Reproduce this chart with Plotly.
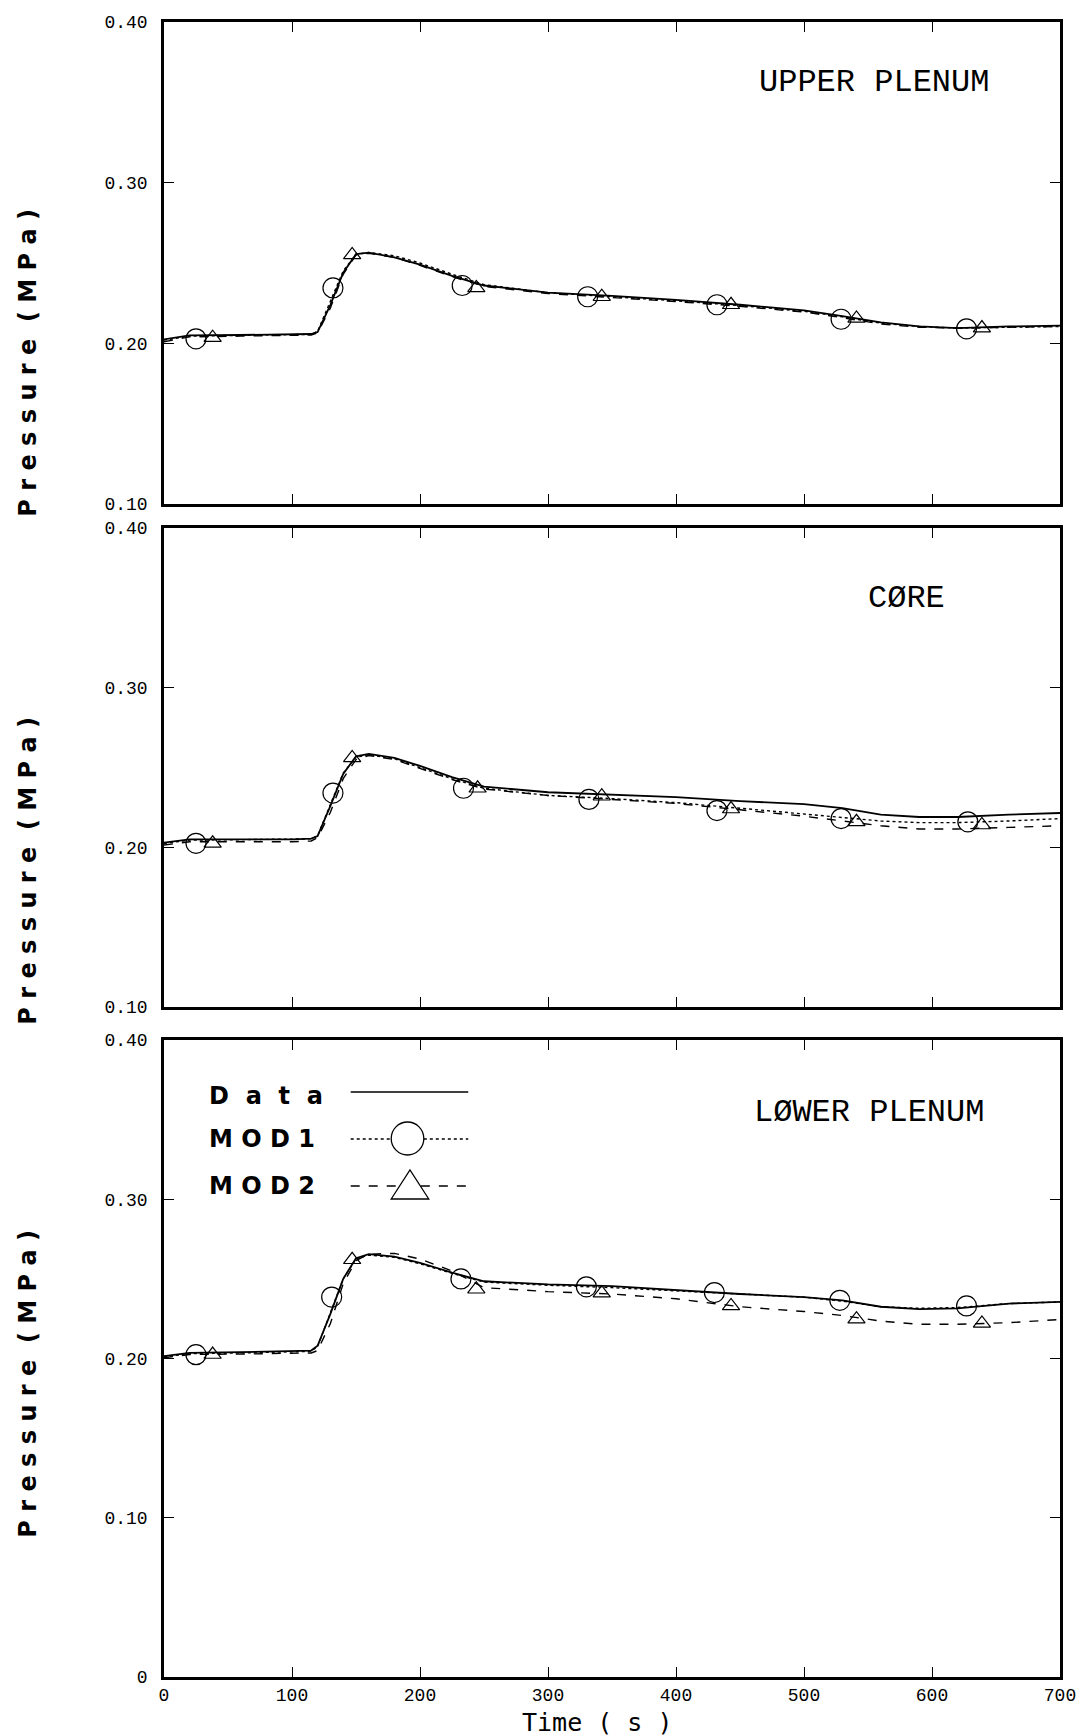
import plotly.graph_objects as go

# ---------------- data ----------------
time = [0, 20, 60, 100, 115, 120, 130, 140, 150, 160, 180, 200, 225, 250,
        300, 350, 400, 450, 500, 530, 560, 590, 620, 660, 700]

# Upper plenum
up_data = [0.2025, 0.2050, 0.2052, 0.2055, 0.2058, 0.2070, 0.2240, 0.2440, 0.2555, 0.2565,
           0.2535, 0.2490, 0.2420, 0.2360, 0.2315, 0.2295, 0.2270, 0.2240, 0.2205, 0.2170,
           0.2130, 0.2105, 0.2095, 0.2105, 0.2110]
up_mod1 = [0.2020, 0.2045, 0.2050, 0.2053, 0.2056, 0.2075, 0.2260, 0.2450, 0.2555, 0.2565,
           0.2545, 0.2500, 0.2430, 0.2365, 0.2315, 0.2290, 0.2265, 0.2235, 0.2200, 0.2165,
           0.2125, 0.2105, 0.2095, 0.2100, 0.2105]
up_mod2 = [0.2010, 0.2040, 0.2045, 0.2050, 0.2052, 0.2065, 0.2220, 0.2430, 0.2550, 0.2560,
           0.2535, 0.2485, 0.2415, 0.2355, 0.2310, 0.2285, 0.2260, 0.2230, 0.2195, 0.2160,
           0.2120, 0.2100, 0.2095, 0.2100, 0.2105]
up_mod1_mk_t = [25, 132, 233, 331, 432, 529, 627]
up_mod1_mk_v = [0.2028, 0.2345, 0.2360, 0.2290, 0.2240, 0.2150, 0.2090]
up_mod2_mk_t = [38, 147, 244, 342, 443, 541, 639]
up_mod2_mk_v = [0.2035, 0.2550, 0.2345, 0.2290, 0.2240, 0.2155, 0.2095]

# Core
co_data = [0.2030, 0.2050, 0.2050, 0.2050, 0.2055, 0.2070, 0.2260, 0.2460, 0.2570, 0.2585,
           0.2560, 0.2510, 0.2440, 0.2380, 0.2345, 0.2330, 0.2315, 0.2290, 0.2270, 0.2245,
           0.2205, 0.2190, 0.2190, 0.2205, 0.2215]
co_mod1 = [0.2025, 0.2045, 0.2048, 0.2050, 0.2053, 0.2072, 0.2270, 0.2465, 0.2565, 0.2580,
           0.2555, 0.2500, 0.2430, 0.2370, 0.2325, 0.2305, 0.2280, 0.2245, 0.2210, 0.2185,
           0.2165, 0.2155, 0.2155, 0.2165, 0.2180]
co_mod2 = [0.2015, 0.2035, 0.2035, 0.2035, 0.2040, 0.2060, 0.2220, 0.2430, 0.2550, 0.2575,
           0.2550, 0.2495, 0.2425, 0.2365, 0.2325, 0.2300, 0.2275, 0.2235, 0.2195, 0.2165,
           0.2135, 0.2115, 0.2115, 0.2125, 0.2135]
co_mod1_mk_t = [25, 132, 234, 332, 432, 529, 628]
co_mod1_mk_v = [0.2025, 0.2340, 0.2370, 0.2300, 0.2230, 0.2180, 0.2160]
co_mod2_mk_t = [38, 147, 245, 342, 443, 541, 639]
co_mod2_mk_v = [0.2025, 0.2560, 0.2370, 0.2320, 0.2240, 0.2160, 0.2140]

# Lower plenum
lo_data = [0.2015, 0.2035, 0.2040, 0.2045, 0.2050, 0.2080, 0.2280, 0.2500, 0.2630, 0.2655,
           0.2640, 0.2600, 0.2540, 0.2485, 0.2465, 0.2455, 0.2430, 0.2405, 0.2385, 0.2365,
           0.2325, 0.2310, 0.2315, 0.2345, 0.2355]
lo_mod1 = [0.2010, 0.2030, 0.2035, 0.2040, 0.2045, 0.2075, 0.2290, 0.2500, 0.2625, 0.2650,
           0.2635, 0.2595, 0.2535, 0.2480, 0.2460, 0.2445, 0.2425, 0.2405, 0.2385, 0.2360,
           0.2325, 0.2315, 0.2320, 0.2345, 0.2355]
lo_mod2 = [0.2005, 0.2025, 0.2028, 0.2030, 0.2035, 0.2050, 0.2220, 0.2470, 0.2615, 0.2655,
           0.2660, 0.2625, 0.2550, 0.2445, 0.2420, 0.2405, 0.2375, 0.2325, 0.2295, 0.2270,
           0.2235, 0.2215, 0.2215, 0.2225, 0.2245]
lo_mod1_mk_t = [25, 131, 232, 330, 430, 528, 627]
lo_mod1_mk_v = [0.2024, 0.2386, 0.2500, 0.2450, 0.2414, 0.2365, 0.2330]
lo_mod2_mk_t = [38, 147, 244, 342, 443, 541, 639]
lo_mod2_mk_v = [0.2025, 0.2620, 0.2435, 0.2410, 0.2330, 0.2247, 0.2220]

panel_labels = ["UPPER PLENUM", "CØRE", "LØWER PLENUM"]
x_ticks = [0, 100, 200, 300, 400, 500, 600, 700]
y_ticks_top = [0.10, 0.20, 0.30, 0.40]
y_ticks_bottom = [0, 0.10, 0.20, 0.30, 0.40]
y_ticktext_top = ["0.10", "0.20", "0.30", "0.40"]
y_ticktext_bottom = ["0", "0.10", "0.20", "0.30", "0.40"]

# ---------------- layout geometry (pixels) ----------------
W, H = 1088, 1736
ML, MR, MT, MB = 164, 17, 22, 59
PW = W - ML - MR
PH = H - MT - MB


def px(xp):
    return (xp - ML) / PW


def py(yp):
    return (H - MB - yp) / PH


TICKFONT = dict(family="Liberation Mono, DejaVu Sans Mono", size=18, color="black")

fig = go.Figure()

panels = [
    (up_data, up_mod1, up_mod2, up_mod1_mk_t, up_mod1_mk_v, up_mod2_mk_t, up_mod2_mk_v),
    (co_data, co_mod1, co_mod2, co_mod1_mk_t, co_mod1_mk_v, co_mod2_mk_t, co_mod2_mk_v),
    (lo_data, lo_mod1, lo_mod2, lo_mod1_mk_t, lo_mod1_mk_v, lo_mod2_mk_t, lo_mod2_mk_v),
]

for i, (d, m1, m2, m1t, m1v, m2t, m2v) in enumerate(panels):
    xa = "x" if i == 0 else f"x{i+1}"
    ya = "y" if i == 0 else f"y{i+1}"
    fig.add_trace(go.Scatter(x=time, y=d, mode="lines", xaxis=xa, yaxis=ya,
                             line=dict(color="black", width=1.8), showlegend=False,
                             hoverinfo="skip"))
    fig.add_trace(go.Scatter(x=time, y=m1, mode="lines", xaxis=xa, yaxis=ya,
                             line=dict(color="black", width=1.4, dash="dot"), showlegend=False,
                             hoverinfo="skip"))
    fig.add_trace(go.Scatter(x=time, y=m2, mode="lines", xaxis=xa, yaxis=ya,
                             line=dict(color="black", width=1.4, dash="dash"), showlegend=False,
                             hoverinfo="skip"))
    fig.add_trace(go.Scatter(x=m1t, y=m1v, mode="markers", xaxis=xa, yaxis=ya,
                             marker=dict(symbol="circle-open", size=20, color="black",
                                         line=dict(width=1.2, color="black")),
                             showlegend=False, hoverinfo="skip"))
    fig.add_trace(go.Scatter(x=m2t, y=m2v, mode="markers", xaxis=xa, yaxis=ya,
                             marker=dict(symbol="triangle-up-open", size=15, color="black",
                                         line=dict(width=1.2, color="black")),
                             showlegend=False, hoverinfo="skip"))

# panel pixel boxes (top, bottom)
boxes = [(22, 504), (528, 1007), (1040, 1677)]
axis_common = dict(showline=True, linecolor="black", linewidth=2.5, mirror="ticks",
                   ticks="inside", ticklen=10, tickwidth=1.3, tickcolor="black",
                   showgrid=False, zeroline=False, tickfont=TICKFONT)

layout = dict(
    width=W, height=H,
    margin=dict(l=ML, r=MR, t=MT, b=MB),
    paper_bgcolor="white", plot_bgcolor="white",
    showlegend=False,
)
for i, (top, bot) in enumerate(boxes):
    xk = "xaxis" if i == 0 else f"xaxis{i+1}"
    yk = "yaxis" if i == 0 else f"yaxis{i+1}"
    ya = "y" if i == 0 else f"y{i+1}"
    xa = "x" if i == 0 else f"x{i+1}"
    layout[xk] = dict(axis_common, domain=[0, 1], range=[0, 700], anchor=ya,
                      tickvals=x_ticks, showticklabels=(i == 2))
    if i < 2:
        layout[yk] = dict(axis_common, domain=[py(bot), py(top)], range=[0.10, 0.40],
                          anchor=xa, tickvals=y_ticks_top, ticktext=y_ticktext_top,
                          ticklabelstandoff=10)
    else:
        layout[yk] = dict(axis_common, domain=[py(bot), py(top)], range=[0, 0.40],
                          anchor=xa, tickvals=y_ticks_bottom, ticktext=y_ticktext_bottom,
                          ticklabelstandoff=10)
fig.update_layout(**layout)

annotations = []
# y-axis titles
for yc in [363, 871, 1384]:
    annotations.append(dict(text="<b>P r e s s u r e  ( M P a )</b>", xref="paper", yref="paper",
                            x=px(26), y=py(yc), textangle=-90, showarrow=False,
                            xanchor="center", yanchor="middle",
                            font=dict(family="DejaVu Sans", size=24, color="black")))
# x-axis title
annotations.append(dict(text="Time ( s )", xref="paper", yref="paper",
                        x=px(603), y=py(1722), showarrow=False,
                        xanchor="center", yanchor="middle",
                        font=dict(family="DejaVu Sans Mono", size=25, color="black")))
# panel labels
for lab, xl, yc in zip(panel_labels, [764, 875, 759], [83, 598, 1112]):
    annotations.append(dict(text=lab, xref="paper", yref="paper", x=px(xl), y=py(yc),
                            showarrow=False, xanchor="left", yanchor="middle",
                            font=dict(family="Liberation Mono, DejaVu Sans Mono", size=32,
                                      color="black")))
# legend text
for lab, yc in zip(["D  a  t  a", "M O D 1", "M O D 2"], [1096, 1139, 1186]):
    annotations.append(dict(text=f"<b>{lab}</b>", xref="paper", yref="paper", x=px(208), y=py(yc),
                            showarrow=False, xanchor="left", yanchor="middle",
                            font=dict(family="DejaVu Sans", size=24, color="black")))
fig.update_layout(annotations=annotations)

# legend samples (decoration shapes)
shapes = []
shapes.append(dict(type="line", xref="paper", yref="paper", x0=px(353), x1=px(472),
                   y0=py(1092), y1=py(1092), line=dict(color="black", width=1.5)))
shapes.append(dict(type="line", xref="paper", yref="paper", x0=px(353), x1=px(394),
                   y0=py(1139), y1=py(1139), line=dict(color="black", width=1.3, dash="dot")))
shapes.append(dict(type="line", xref="paper", yref="paper", x0=px(427), x1=px(472),
                   y0=py(1139), y1=py(1139), line=dict(color="black", width=1.3, dash="dot")))
shapes.append(dict(type="circle", xref="paper", yref="paper", x0=px(394), x1=px(427),
                   y0=py(1155), y1=py(1122), line=dict(color="black", width=1.3)))
shapes.append(dict(type="line", xref="paper", yref="paper", x0=px(353), x1=px(400),
                   y0=py(1186), y1=py(1186), line=dict(color="black", width=1.3, dash="dash")))
shapes.append(dict(type="line", xref="paper", yref="paper", x0=px(424), x1=px(472),
                   y0=py(1186), y1=py(1186), line=dict(color="black", width=1.3, dash="dash")))
tri = f"M {px(394)},{py(1199)} L {px(413)},{py(1170)} L {px(432)},{py(1199)} Z"
shapes.append(dict(type="path", xref="paper", yref="paper", path=tri,
                   line=dict(color="black", width=1.3)))
fig.update_layout(shapes=shapes)

fig.write_html("out.html")
